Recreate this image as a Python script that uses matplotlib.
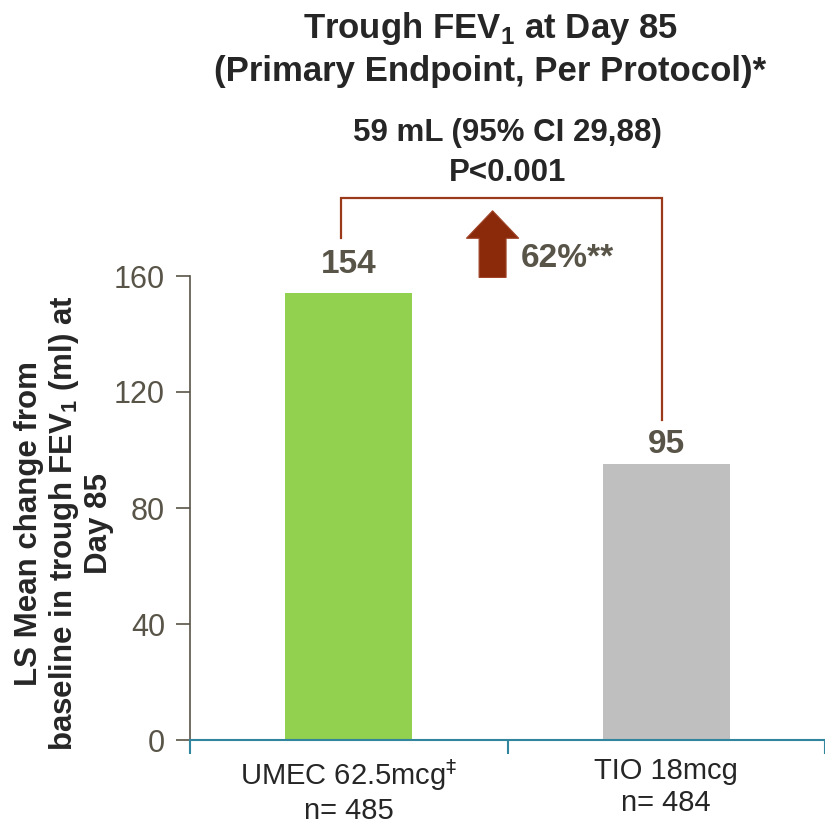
import matplotlib
matplotlib.use("Agg")
import matplotlib.pyplot as plt
import matplotlib.patches as mpatches
from matplotlib import font_manager

names = {f.name for f in font_manager.fontManager.ttflist}
FONT = "Liberation Sans Narrow" if "Liberation Sans Narrow" in names else "Liberation Sans"
plt.rcParams['font.family'] = [FONT, 'DejaVu Sans']

categories = ["UMEC 62.5mcg$^{\u2021}$\nn= 485", "TIO 18mcg\nn= 484"]
values = [154, 95]
bar_colors = ["#92d050", "#bfbfbf"]
yticks = [0, 40, 80, 120, 160]
title_text = "Trough FEV$_\\mathregular{1}$ at Day 85\n(Primary Endpoint, Per Protocol)*"
diff_text = "59 mL (95% CI 29,88)\nP<0.001"
pct_text = "62%**"
ylabel_text = "LS Mean change from\nbaseline in trough FEV$_\\mathregular{1}$ (ml) at\nDay 85"

TXT = "#595448"
DARK = "#262626"
RED = "#9b3a1a"

fig = plt.figure(figsize=(8.25, 8.26), dpi=100)
ax = fig.add_axes([190/825, 1-740/826, 635/825, 464/826])

x = list(range(len(values)))
bars = ax.bar(x, values, width=0.4, color=bar_colors, zorder=2)
ax.set_xlim(-0.5, 1.5)
ax.set_ylim(0, 160)
ax.set_yticks(yticks)
ax.set_xticks([-0.5, 0.5, 1.5])
ax.set_xticklabels([])
ax.set_xticks(x, minor=True)
ax.set_xticklabels(categories, minor=True, fontsize=21, color=DARK)
ax.tick_params(axis='x', which='minor', length=0, pad=12)
ax.tick_params(axis='x', which='major', length=10, width=1.5, color="#31859c", direction='out')
ax.tick_params(axis='y', length=10, width=1.2, color=TXT, labelsize=22, labelcolor=TXT, pad=8)
for s in ['top', 'right']:
    ax.spines[s].set_visible(False)
ax.spines['left'].set_color(TXT)
ax.spines['left'].set_linewidth(1.2)
ax.spines['bottom'].set_color("#31859c")
ax.spines['bottom'].set_linewidth(1.5)

label_offsets = [9.5, 3.5]
for xi, v, off in zip(x, values, label_offsets):
    ax.annotate(str(v), (xi, v), xytext=(0, off), textcoords='offset points',
                ha='center', va='bottom', fontsize=24, fontweight='bold', color=TXT)

fig.text(64/825, 1-523/826, ylabel_text, rotation=90, ha='center', va='center',
         fontsize=22.5, fontweight='bold', color=DARK, linespacing=1.12, multialignment='center')

# bracket
ax.plot([-0.025, -0.025, 0.987, 0.987], [173, 187, 187, 110.5], color=RED, lw=1.6,
        clip_on=False, solid_joinstyle='miter')
# arrow
arr = mpatches.FancyArrow(0.453, 159.5, 0, 23, width=0.085, head_width=0.165, head_length=9.5,
                          length_includes_head=True, facecolor="#8b2a0a", edgecolor="#a0452a",
                          lw=0.8, clip_on=False)
ax.add_patch(arr)
ax.text(0.542, 166, pct_text, ha='left', va='center', fontsize=24, fontweight='bold', color=TXT)
ax.text(0.5, 202.4, diff_text, ha='center', va='center', fontsize=22.5, fontweight='bold', color=DARK,
        linespacing=1.45)

fig.text(490/825, 1-49/826, title_text, ha='center', va='center', fontsize=25, fontweight='bold',
         color=DARK, linespacing=1.3)

fig.savefig("out.png", dpi=100)
